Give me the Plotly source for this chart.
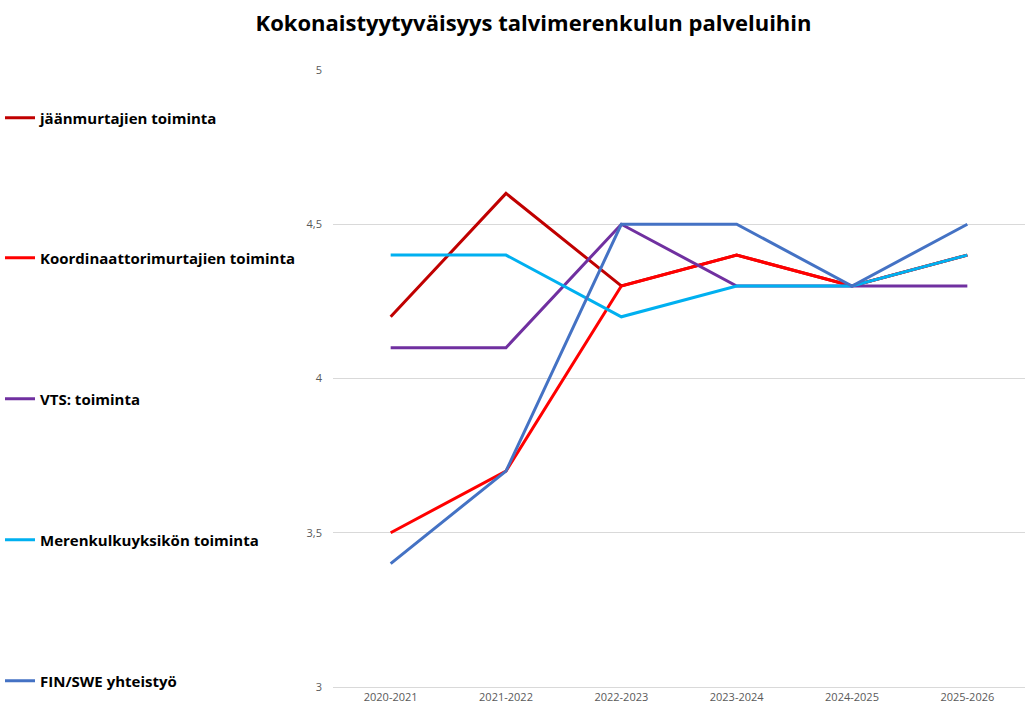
import plotly.graph_objects as go

categories = ["2020-2021", "2021-2022", "2022-2023", "2023-2024", "2024-2025", "2025-2026"]
jaanmurtajat = [4.2, 4.6, 4.3, 4.4, 4.3, 4.4]
koordinaattori = [3.5, 3.7, 4.3, 4.4, 4.3, 4.4]
vts = [4.1, 4.1, 4.5, 4.3, 4.3, 4.3]
merenkulku = [4.4, 4.4, 4.2, 4.3, 4.3, 4.4]
finswe = [3.4, 3.7, 4.5, 4.5, 4.3, 4.5]

series = [
    ("jäänmurtajien toiminta", jaanmurtajat, "#C00000"),
    ("Koordinaattorimurtajien toiminta", koordinaattori, "#FF0000"),
    ("VTS: toiminta", vts, "#7030A0"),
    ("Merenkulkuyksikön toiminta", merenkulku, "#00B0F0"),
    ("FIN/SWE yhteistyö", finswe, "#4472C4"),
]
legend_y_px = [118, 258, 399, 540, 681]

fig = go.Figure()
legends = {}
for i, (name, vals, color) in enumerate(series):
    key = "legend" if i == 0 else f"legend{i+1}"
    fig.add_trace(go.Scatter(
        x=categories, y=vals, name=name, mode="lines",
        line=dict(color=color, width=3),
        legend=key,
    ))
    legends[key] = dict(
        xref="container", yref="container",
        x=0.0, xanchor="left",
        y=1 - legend_y_px[i] / 720, yanchor="middle",
        font=dict(family="Open Sans", size=15, color="black", weight="bold"),
        bgcolor="rgba(0,0,0,0)",
        itemwidth=30,
    )

fig.update_layout(
    width=1036, height=720,
    paper_bgcolor="white", plot_bgcolor="white",
    separators=", ",
    margin=dict(l=333, r=11, t=70, b=33, autoexpand=False),
    title=dict(text="<b>Kokonaistyytyväisyys talvimerenkulun palveluihin</b>",
               x=0.515, xanchor="center", y=0.968, yanchor="middle",
               font=dict(family="Open Sans", size=22, color="black")),
    font=dict(family="Open Sans"),
    showlegend=True,
    **legends,
)

fig.update_xaxes(
    type="category", range=[-0.5, 5.5], showgrid=False, showline=True,
    linecolor="#D9D9D9", linewidth=1, zeroline=False,
    ticks="", tickfont=dict(family="Open Sans", size=11, color="#595959"),
)
fig.update_yaxes(
    range=[3, 5], dtick=0.5, showgrid=True, gridcolor="#D9D9D9", gridwidth=1,
    zeroline=False, showline=False, ticks="", ticklabelstandoff=10,
    tickfont=dict(family="Open Sans", size=11, color="#595959"),
)

fig.write_html("out.html")
